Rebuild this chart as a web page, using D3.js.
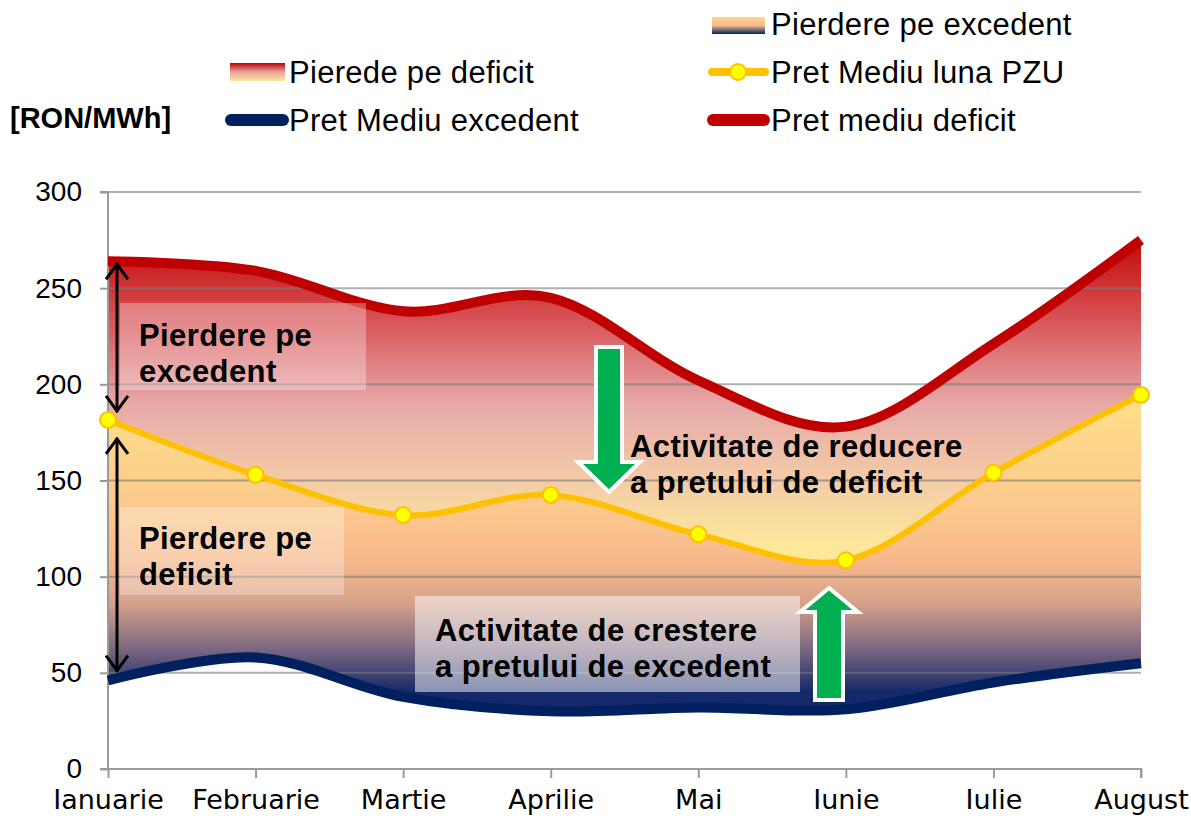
<!DOCTYPE html>
<html><head><meta charset="utf-8">
<script src="https://cdn.jsdelivr.net/npm/d3@7"></script>
<style>body{margin:0;background:#fff}svg{display:block}</style>
</head><body><svg id="c" width="1191" height="818"></svg>
<script>
const months = ["Ianuarie","Februarie","Martie","Aprilie","Mai","Iunie","Iulie","August"];
const deficit = [264, 259, 238, 245, 202, 178, 221, 275];
const pzu = [181.5, 153, 132, 142.5, 122, 108.5, 154, 194.5];
const excedent = [46, 58, 37.5, 30, 32, 31, 45, 55];
const yTicks = [0, 50, 100, 150, 200, 250, 300];

const svg = d3.select("#c");
const x = d3.scalePoint().domain(months).range([108, 1141]);
const y = d3.scaleLinear().domain([0, 300]).range([769, 192]);
const curve = d3.curveCardinal.tension(0);
const rows = months.map((m, i) => ({m, d: deficit[i], p: pzu[i], e: excedent[i]}));

const defs = svg.append("defs");
function grad(id, stops, y1, y2, units) {
  const g = defs.append("linearGradient").attr("id", id).attr("x1", 0).attr("x2", 0);
  if (units) g.attr("gradientUnits", "userSpaceOnUse").attr("y1", y1).attr("y2", y2);
  else g.attr("y1", 0).attr("y2", 1);
  stops.forEach(s => g.append("stop").attr("offset", s[0]).attr("stop-color", s[1]));
}
grad("gUp", [[0, "#C00000"], [0.3, "#D9595C"], [0.55, "#E7AAAA"], [0.8, "#F4CDA6"], [1, "#FDE89A"]], y(280), y(115), true);
grad("gLo", [[0, "#FEE08A"], [0.35, "#FCCB8C"], [0.55, "#F8BA8C"], [0.7, "#D7A28B"], [0.85, "#7F6A80"], [1, "#14286A"]], y(195), y(40), true);
grad("lgUp", [[0, "#C00000"], [0.5, "#E7A2A2"], [1, "#FDE79B"]]);
grad("lgLo", [[0, "#FFD98C"], [0.5, "#F5B98C"], [1, "#002060"]]);

// areas
svg.append("path").datum(rows).attr("fill", "url(#gUp)")
  .attr("d", d3.area().curve(curve).x(r => x(r.m)).y0(r => y(r.p)).y1(r => y(r.d)));
svg.append("path").datum(rows).attr("fill", "url(#gLo)")
  .attr("d", d3.area().curve(curve).x(r => x(r.m)).y0(r => y(r.e)).y1(r => y(r.p)));

// gridlines
svg.append("g").selectAll("line").data(yTicks.filter(t => t > 0)).join("line")
  .attr("x1", 108).attr("x2", 1141).attr("y1", d => y(d)).attr("y2", d => y(d))
  .attr("stroke", "#7a7a7a").attr("stroke-opacity", 0.6).attr("stroke-width", 2);

// axes
const yAx = svg.append("g").attr("transform", "translate(108,0)")
  .call(d3.axisLeft(y).tickValues(yTicks).tickSize(8).tickPadding(18));
const xAx = svg.append("g").attr("transform", "translate(0,769)")
  .call(d3.axisBottom(x).tickSize(9).tickPadding(12));
[yAx, xAx].forEach(a => {
  a.select(".domain").attr("stroke", "#9a9a9a").attr("stroke-width", 2);
  a.selectAll(".tick line").attr("stroke", "#9a9a9a").attr("stroke-width", 2);
});
yAx.select(".domain").attr("d", "M-8,192H0V769H-8");
xAx.select(".domain").attr("d", "M100,0H1141V9");
yAx.selectAll("text").attr("font-family", "Liberation Sans, Arial").attr("font-size", 28).attr("fill", "#000");
xAx.selectAll("text").attr("font-family", "DejaVu Sans, Verdana").attr("font-size", 27).attr("fill", "#000");

// lines
const line = (acc) => d3.line().curve(curve).x(r => x(r.m)).y(r => y(acc(r)));
svg.append("path").datum(rows).attr("fill", "none").attr("stroke", "#C00000").attr("stroke-width", 10).attr("d", line(r => r.d));
svg.append("path").datum(rows).attr("fill", "none").attr("stroke", "#002060").attr("stroke-width", 10).attr("d", line(r => r.e));
svg.append("path").datum(rows).attr("fill", "none").attr("stroke", "#FFC000").attr("stroke-width", 6).attr("d", line(r => r.p));
svg.append("g").selectAll("circle").data(rows).join("circle")
  .attr("cx", r => x(r.m)).attr("cy", r => y(r.p)).attr("r", 8)
  .attr("fill", "#FFFF00").attr("stroke", "#FFC000").attr("stroke-width", 2);

// legend
const lf = "Liberation Sans, Arial";
const leg = svg.append("g").attr("font-family", lf).attr("font-size", 31).attr("letter-spacing", 0.3).attr("fill", "#000");
leg.append("rect").attr("x", 712).attr("y", 17).attr("width", 53).attr("height", 17).attr("fill", "url(#lgLo)");
leg.append("text").attr("x", 771).attr("y", 35).text("Pierdere pe excedent");
leg.append("rect").attr("x", 230).attr("y", 63).attr("width", 55).attr("height", 18).attr("fill", "url(#lgUp)");
leg.append("text").attr("x", 289).attr("y", 83).text("Pierede pe deficit");
leg.append("line").attr("x1", 712).attr("x2", 765).attr("y1", 72).attr("y2", 72).attr("stroke", "#FFC000").attr("stroke-width", 8).attr("stroke-linecap", "round");
leg.append("circle").attr("cx", 738).attr("cy", 72).attr("r", 8).attr("fill", "#FFFF00").attr("stroke", "#FFC000").attr("stroke-width", 2);
leg.append("text").attr("x", 771).attr("y", 83).text("Pret Mediu luna PZU");
leg.append("line").attr("x1", 231).attr("x2", 283).attr("y1", 120).attr("y2", 120).attr("stroke", "#002060").attr("stroke-width", 12).attr("stroke-linecap", "round");
leg.append("text").attr("x", 289).attr("y", 131).text("Pret Mediu excedent");
leg.append("line").attr("x1", 713).attr("x2", 764).attr("y1", 120).attr("y2", 120).attr("stroke", "#C00000").attr("stroke-width", 12).attr("stroke-linecap", "round");
leg.append("text").attr("x", 771).attr("y", 131).text("Pret mediu deficit");
svg.append("text").attr("x", 10).attr("y", 128).attr("font-family", lf).attr("font-weight", "bold").attr("font-size", 29).text("[RON/MWh]");

// annotation boxes
const ann = svg.append("g");
ann.append("rect").attr("x", 120).attr("y", 303).attr("width", 246).attr("height", 87).attr("fill", "#fff").attr("fill-opacity", 0.3);
ann.append("rect").attr("x", 120).attr("y", 507).attr("width", 224).attr("height", 88).attr("fill", "#fff").attr("fill-opacity", 0.3);
ann.append("rect").attr("x", 415).attr("y", 596).attr("width", 385).attr("height", 96).attr("fill", "#fff").attr("fill-opacity", 0.5);
function btext(xx, yy, lines) {
  const t = ann.append("text").attr("font-family", lf).attr("font-weight", "bold").attr("font-size", 31).attr("letter-spacing", 0.4).attr("fill", "#000");
  lines.forEach((l, i) => t.append("tspan").attr("x", xx).attr("y", yy + i * 36).text(l));
}
btext(139, 346, ["Pierdere pe", "excedent"]);
btext(139, 549, ["Pierdere pe", "deficit"]);
btext(630, 457, ["Activitate de reducere", "a pretului de deficit"]);
btext(435, 641, ["Activitate de crestere", "a pretului de excedent"]);

// double-headed arrows
function dbl(xx, y1, y2) {
  const g = ann.append("g").attr("stroke", "#000").attr("stroke-width", 3).attr("fill", "none");
  g.append("line").attr("x1", xx).attr("x2", xx).attr("y1", y1).attr("y2", y2);
  g.append("path").attr("d", `M${xx-11},${y1+16}L${xx},${y1+1}L${xx+11},${y1+16}`);
  g.append("path").attr("d", `M${xx-11},${y2-16}L${xx},${y2-1}L${xx+11},${y2-16}`);
}
dbl(117, y(deficit[0]) + 2, y(pzu[0]) - 8);
dbl(117, y(pzu[0]) + 18, y(excedent[0]) - 9);

// block arrows
function block(cx, yStart, yNeck, yTip, bw, hw) {
  const p = `M${cx-bw/2},${yStart}L${cx+bw/2},${yStart}L${cx+bw/2},${yNeck}L${cx+hw/2},${yNeck}L${cx},${yTip}L${cx-hw/2},${yNeck}L${cx-bw/2},${yNeck}Z`;
  ann.append("path").attr("d", p).attr("fill", "#00B050").attr("stroke", "#fff").attr("stroke-width", 4).attr("stroke-linejoin", "miter");
}
block(609, 347, 462, 492, 26, 62);
block(829, 700, 612, 588, 28, 58);
</script></body></html>
